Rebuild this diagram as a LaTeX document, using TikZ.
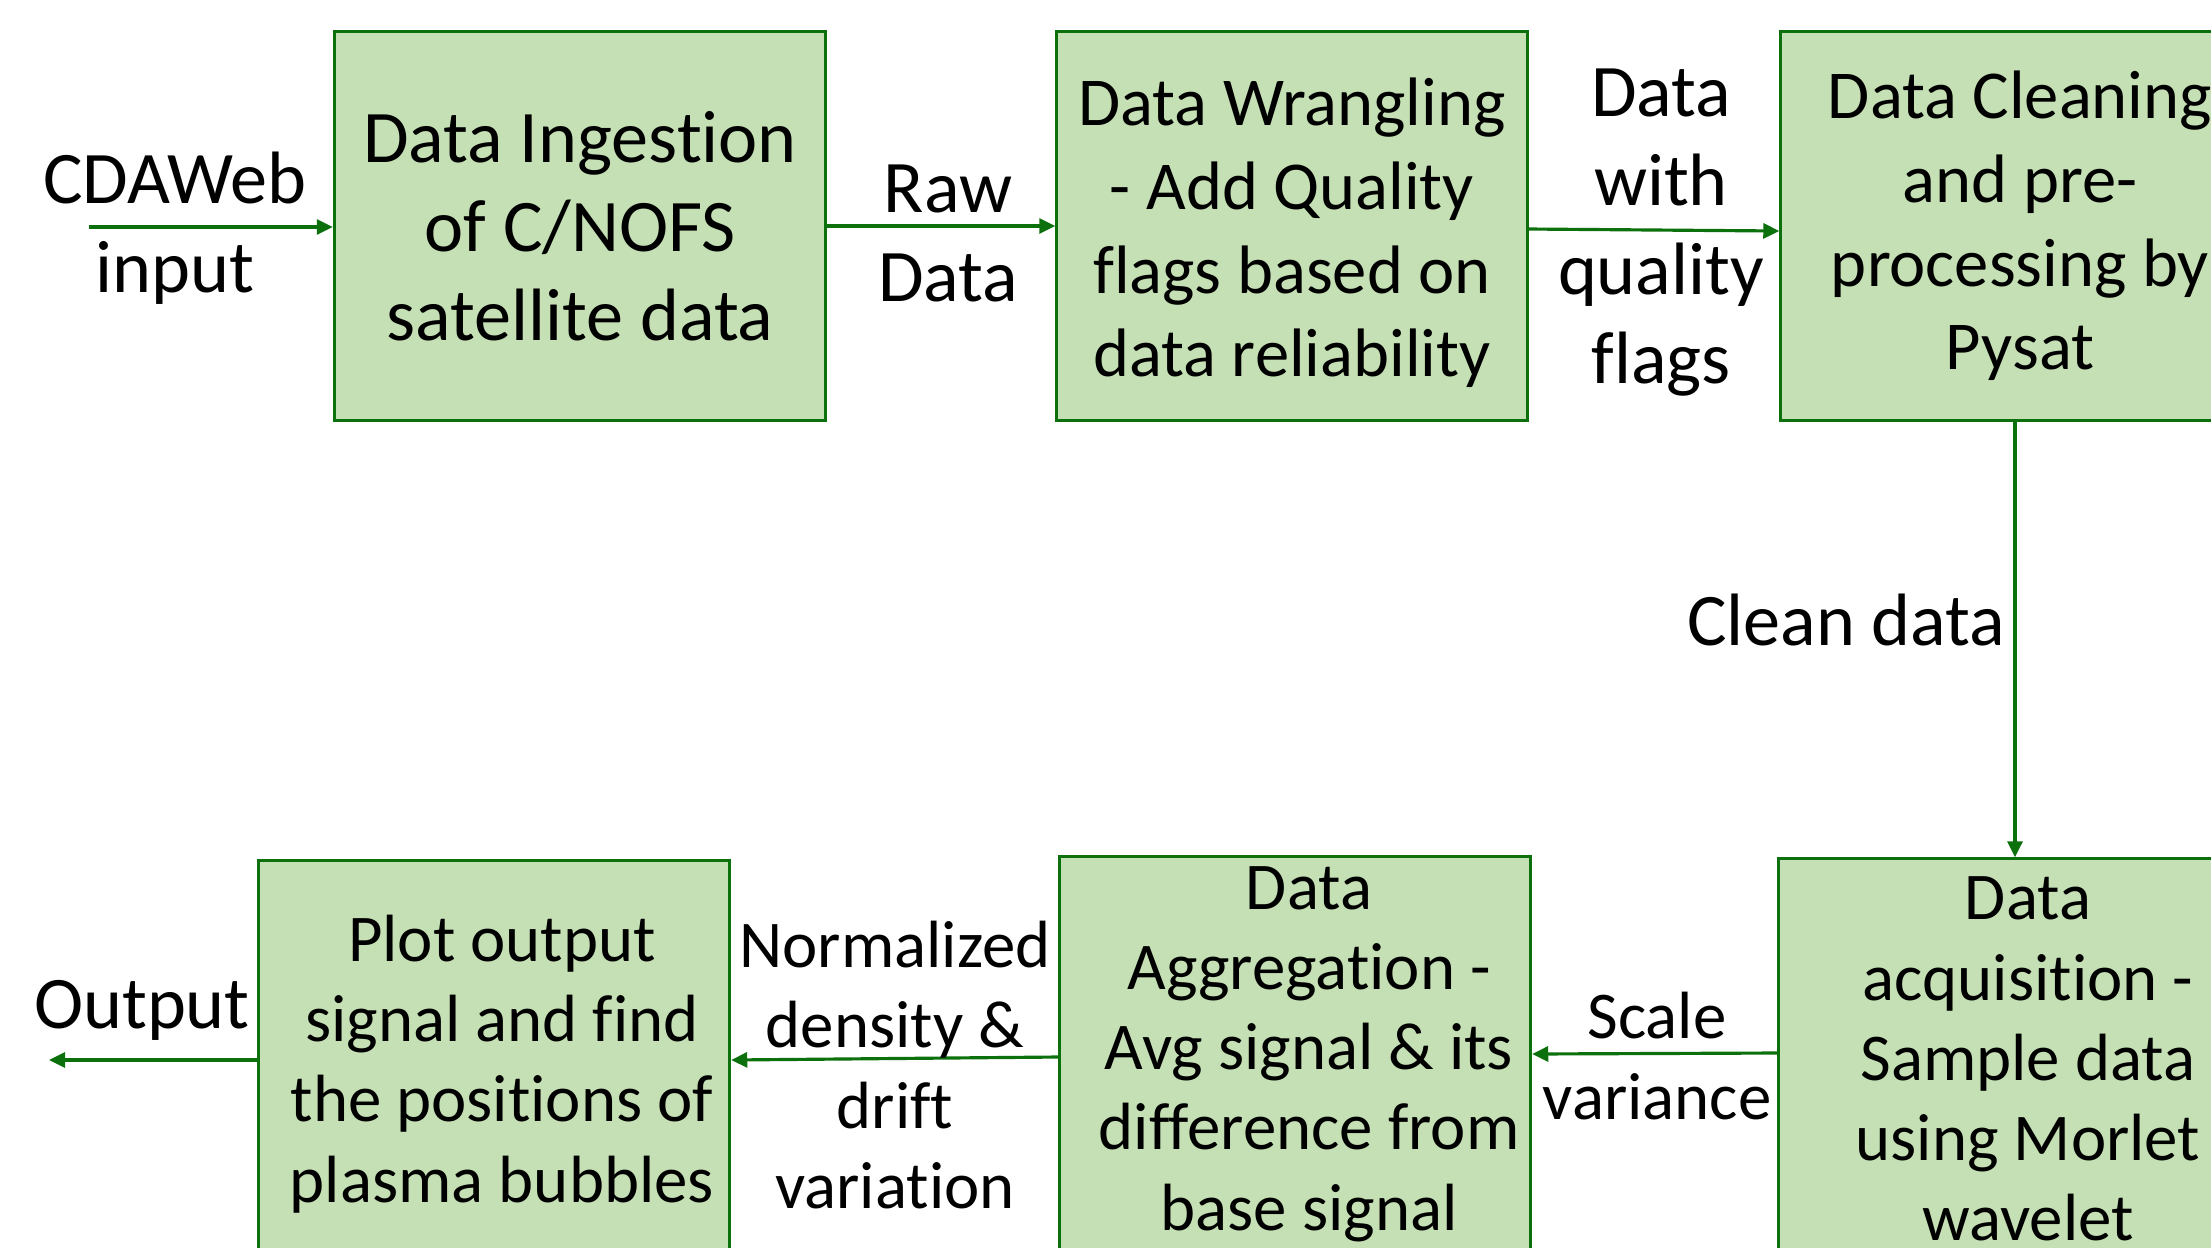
\documentclass[tikz,border=0pt]{standalone}
\usepackage{fontspec}
\setmainfont{Carlito}[Ligatures=NoCommon]
\usetikzlibrary{arrows.meta}
\definecolor{boxfill}{RGB}{197,224,180}
\definecolor{flowgreen}{RGB}{12,112,12}
\newcommand{\bigtxt}{\fontsize{21.1}{25.3}\selectfont}
\newcommand{\midtxt}{\fontsize{19.5}{23.8}\selectfont}
\newcommand{\smalltxt}{\fontsize{19}{22.8}\selectfont}

\begin{document}
\begin{tikzpicture}[x=0.01cm,y=-0.01cm]
\tikzstyle{stage}=[draw=flowgreen,fill=boxfill,line width=0.9pt,align=center,inner sep=0pt];
\tikzstyle{flow}=[draw=flowgreen,line width=0.9pt,-{Triangle[length=0.16cm,width=0.15cm]}];
\tikzstyle{lbl}=[align=center,inner sep=0pt];
\useasboundingbox (0,0) rectangle (2211,1247);
\clip (0,0) rectangle (2211,1247);

\node[stage,minimum width=4.91cm,minimum height=3.89cm,font=\bigtxt] (ingest) at (580,226)
	{Data Ingestion\\of C/NOFS\\satellite data};
\node[stage,minimum width=4.70cm,minimum height=3.89cm] (wrangle) at (1292,226) {};
\node[lbl,font=\midtxt] (wrangletxt) at ([yshift=-0.07cm]wrangle.center)
	{Data Wrangling\\- Add Quality\\flags based on\\data reliability};
\node[stage,minimum width=4.78cm,minimum height=3.89cm,font=\midtxt] (clean) at (2020,226)
	{Data Cleaning\\and pre-\\processing by\\Pysat};
\node[stage,minimum width=4.98cm,minimum height=4.00cm,font=\smalltxt] (acquire) at (2028,1059)
	{Data\\acquisition -\\Sample data\\using Morlet\\wavelet};
\node[stage,minimum width=4.71cm,minimum height=4.00cm] (aggregate) at (1295,1057) {};
\node[lbl,font=\smalltxt] (aggregatetxt) at ([xshift=0.14cm,yshift=0.03cm]aggregate.center)
	{Data\\Aggregation -\\Avg signal \& its\\difference from\\base signal};
\node[stage,minimum width=4.71cm,minimum height=3.98cm] (plot) at (494,1060) {};
\node[lbl,font=\smalltxt] (plottxt) at ([xshift=0.08cm,yshift=-0.04cm]plot.center)
	{Plot output\\signal and find\\the positions of\\plasma bubbles};

\coordinate (src) at (89,227);
\coordinate (sink) at (49,1060);

\draw[flow] (src) -- (src -| ingest.west);
\draw[flow] (ingest.east) -- (wrangle.west);
\draw[flow] ([yshift=-0.03cm]wrangle.east) -- ([yshift=-0.05cm]clean.west);
\draw[flow] ([xshift=-0.05cm]clean.south) -- ([xshift=-0.05cm]clean.south |- acquire.north);
\draw[flow] ([yshift=0.06cm]acquire.west) -- ([yshift=0.03cm]aggregate.east);
\draw[flow] (aggregate.west) -- (plot.east);
\draw[flow] (plot.west) -- (sink);

\node[lbl,font=\bigtxt] (inlbl) at (175,228) {CDAWeb\\input};
\node[lbl,font=\bigtxt] (rawlbl) at (948,233) {Raw\\Data};
\node[lbl,font=\bigtxt] (flaglbl) at (1661,233) {Data\\with\\quality\\flags};
\node[lbl,font=\bigtxt,anchor=east] (cleanlbl) at (2006,620) {Clean data};
\node[lbl,font=\smalltxt] (scalelbl) at (1657,1056) {Scale\\variance};
\node[lbl,font=\smalltxt] (normlbl) at (895,1065) {Normalized\\density \&\\drift\\variation};
\node[lbl,font=\bigtxt] (outlbl) at (142,1010) {Output};
\end{tikzpicture}
\end{document}
